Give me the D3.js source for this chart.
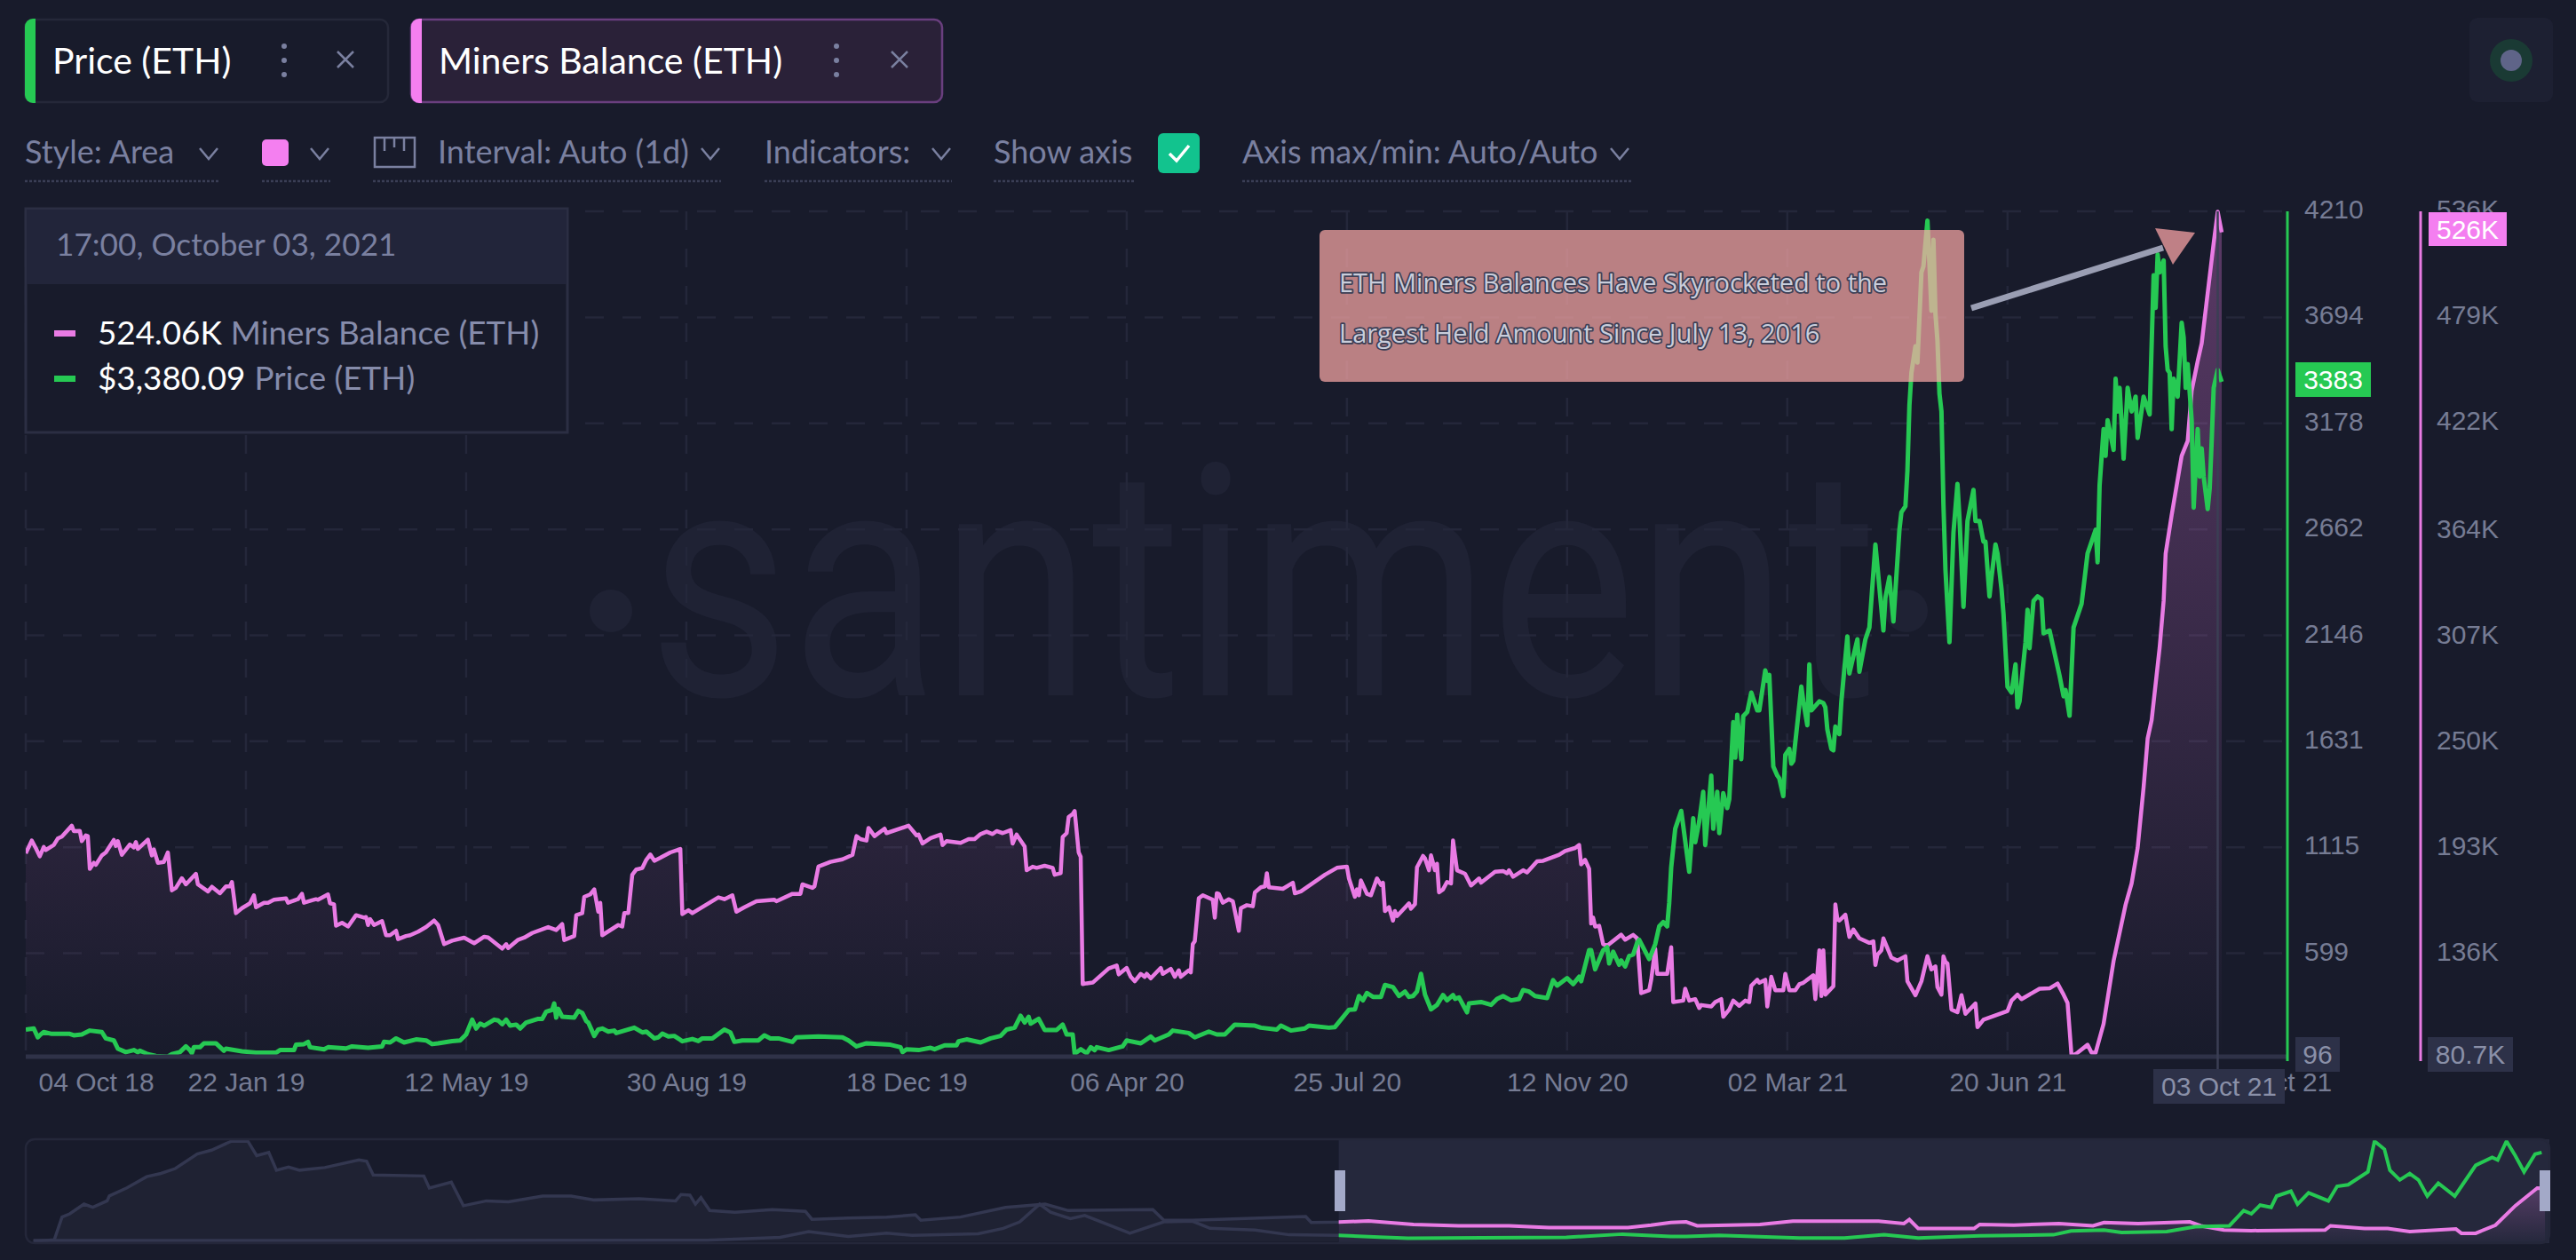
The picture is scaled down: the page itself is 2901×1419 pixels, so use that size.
<!DOCTYPE html>
<html>
<head>
<meta charset="utf-8">
<title>ETH Miners Balance</title>
<script src="https://cdn.jsdelivr.net/npm/d3@7"></script>
<style>
  html, body { margin: 0; background: #181b2b; }
  svg { display: block; }
  .axis text { font-family: "Liberation Sans", Arial, sans-serif; font-size: 30px; fill: #767c94; }
  .axis path, .axis line { display: none; }
</style>
</head>
<body>
<div id="chart"></div>
<script>
// [day since 04 Oct 18, thousand ETH]
const balancePoints = [
  [0,190.2],[3,197.1],[5,193.1],[7,188.6],[9,193.6],[10,192.0],[14,194.7],[16,198.2],[18,199.2],[23,205.1],[24,202.2],[27,202.3],[28,196.8],[30,199.9],[31,199.5],[32,181.8],[34,185.1],[35,184.0],[38,189.1],[40,190.7],[44,197.4],[45,194.2],[46,196.8],[48,189.4],[52,195.0],[54,193.4],[55,196.3],[56,192.6],[61,197.6],[63,189.1],[64,192.3],[66,185.1],[69,185.6],[71,190.7],[73,170.3],[75,171.6],[78,176.8],[80,173.5],[85,179.2],[86,173.5],[91,169.7],[93,172.2],[97,168.7],[100,172.4],[102,172.4],[103,174.8],[105,158.0],[108,160.7],[112,163.3],[114,167.6],[115,161.2],[119,163.6],[121,163.6],[124,165.2],[130,166.0],[131,163.6],[135,165.2],[136,165.5],[138,168.4],[139,163.6],[143,164.9],[145,165.5],[146,165.2],[151,168.1],[152,163.3],[154,162.8],[155,151.2],[158,152.8],[161,150.8],[165,156.9],[169,155.6],[170,155.9],[171,151.6],[172,154.8],[174,151.6],[178,153.7],[180,146.1],[182,146.1],[185,148.5],[186,144.0],[190,145.7],[192,146.1],[196,148.0],[200,150.5],[204,154.0],[206,151.6],[209,141.3],[213,143.2],[219,144.8],[224,141.8],[229,145.3],[231,144.9],[238,138.9],[240,141.3],[241,139.2],[246,143.7],[249,144.8],[253,147.3],[261,150.5],[265,148.9],[268,152.1],[269,143.5],
  [274,145.7],[275,156.9],[278,158.0],[279,166.8],[282,168.1],[284,170.8],[286,158.8],[287,163.6],[288,146.1],[296,151.6],[298,150.8],[299,158.0],[301,158.0],[303,178.7],[305,181.5],[308,182.3],[310,186.7],[312,189.6],[314,186.2],[317,187.8],[322,190.7],[327,192.6],[328,157.5],[331,159.6],[333,158.0],[346,166.5],[349,165.5],[353,167.6],[355,158.8],[359,161.2],[365,164.4],[374,165.2],[375,164.4],[383,168.4],[387,168.4],[388,173.5],[393,171.6],[394,172.4],[396,183.1],[402,185.6],[408,187.0],[413,189.4],[415,199.5],[417,197.9],[420,197.1],[421,203.9],[424,199.5],[429,203.5],[430,201.1],[441,205.1],[445,199.9],[446,200.3],[448,195.5],[452,198.4],[457,200.3],[458,194.7],[460,196.8],[467,195.8],[471,197.9],[474,197.9],[477,200.6],[480,201.9],[483,200.6],[485,202.2],[488,201.1],[492,202.7],[493,195.5],[495,200.3],[499,193.9],[500,181.1],[503,183.0],[505,182.4],[509,183.5],[513,182.4],[514,178.7],[517,179.5],[518,199.0],[520,201.1],[521,209.8],[523,211.4],[524,213.0],[526,190.7],[527,188.3],[528,119.8],[530,120.2],
  [533,120.6],[541,128.2],[545,129.8],[546,125.0],[550,128.5],[552,123.7],[554,121.3],[557,125.3],[559,123.7],[560,125.3],[562,122.9],[567,128.5],[568,125.3],[572,128.0],[574,123.7],[576,127.2],[577,123.7],[581,127.2],[582,126.1],[583,141.3],[584,142.9],[586,166.0],[588,167.6],[593,165.2],[594,155.6],[595,168.7],[596,168.4],[598,163.6],[601,165.5],[603,164.4],[605,154.0],[606,148.5],[607,160.7],[610,162.3],[613,161.7],[614,169.2],[617,171.9],[619,172.4],[620,179.5],[621,171.9],[628,171.1],[633,174.4],[634,168.7],[637,169.7],[649,178.7],[655,182.4],[660,183.0],[661,176.7],[664,166.8],[665,170.8],[666,167.6],[667,175.6],[670,168.4],[672,167.6],[675,176.7],[677,173.2],[678,174.4],[679,159.1],[681,161.2],[683,154.0],[684,159.1],[685,156.4],[691,163.3],[692,160.4],[694,162.8],[695,182.7],[698,188.8],[699,187.5],[701,181.1],[702,189.1],[704,181.1],[705,184.6],[706,169.2],[708,170.8],[710,174.8],[712,174.0],[713,197.1],[715,181.1],[719,179.2],[722,172.9],[726,176.7],[727,174.4],[734,180.3],[738,180.7],[740,179.5],[741,181.1],[743,177.6],[748,181.1],[750,179.9],[755,185.9],[758,186.2],[766,189.4],[769,191.5],[774,193.1],[776,194.7],[777,184.3],[779,186.7],[781,181.9],[782,152.4],[783,155.6],[784,150.8],[786,151.2],[788,141.3],[790,140.5],[797,146.4],[799,143.7],
  [803,146.3],[805,144.4],[807,114.9],[811,116.5],[812,122.1],[814,138.8],[815,125.3],[820,125.3],[822,139.6],[823,110.1],[828,110.9],[829,117.3],[831,110.9],[834,111.7],[836,106.9],[837,108.5],[842,107.7],[844,110.1],[847,111.7],[848,102.2],[851,106.1],[853,110.9],[856,108.1],[859,110.9],[861,110.1],[862,118.9],[865,122.1],[866,120.5],[869,122.1],[870,107.7],[872,123.7],[874,116.5],[878,116.5],[879,125.3],[881,116.5],[884,116.5],[886,119.7],[888,120.5],[893,124.5],[894,111.7],[896,138.0],[897,113.3],[898,138.0],[899,114.1],[903,118.6],[904,162.7],[905,154.8],[906,154.0],[909,157.2],[911,145.2],[913,149.2],[916,144.4],[921,142.0],[923,142.8],[924,130.1],[925,135.6],[927,138.0],[928,144.4],[932,134.0],[935,132.5],[939,134.8],[940,121.3],[944,113.8],[947,121.3],[950,134.8],[952,127.7],[954,129.3],[955,118.1],[957,114.1],[958,134.8],[959,131.7],[960,130.9],[962,106.1],[965,104.6],[967,113.8],[969,103.8],[974,109.3],[975,96.6],[978,100.6],[990,105.3],[992,110.9],[995,114.1],[997,111.7],[1006,117.3],[1011,117.5],[1015,120.1],[1018,114.1],[1020,109.6],[1022,81.0],
  [1025,82.8],[1030,87.1],[1032,82.8],[1034,82.8],[1038,98.4],[1043,132.3],[1049,162.6],[1052,174.0],[1055,193.0],[1058,226.0],[1060,252.0],[1062,262.0],[1066,301.0],[1068,326.2],[1069,351.7],[1072,372.4],[1075,391.5],[1077,404.3],[1080,412.3],[1082,439.4],[1085,455.3],[1087,464.9],[1090,492.0],[1093,519.0],[1095,535.8],[1097,524.7]
];
// [day since 04 Oct 18, USD]
const pricePoints = [
  [0,228],[4,233],[6,190],[7,200],[9,216],[13,207],[22,207],[24,200],[28,204],[32,223],[38,216],[40,185],[44,175],[46,135],[50,118],[54,128],[56,118],[57,125],[61,108],[65,99],[71,96],[73,108],[77,118],[80,146],[82,128],[83,113],[84,142],[87,142],[89,161],[95,161],[99,125],[100,135],[108,122],[115,115],[125,115],[127,128],[134,128],[135,154],[139,157],[141,168],[142,142],[149,132],[151,142],[160,136],[163,146],[171,139],[178,146],[179,168],[182,165],[185,185],[189,165],[195,180],[200,175],[203,157],[206,161],[213,172],[217,175],[220,204],[223,276],[225,233],[227,257],[229,247],[234,276],[236,272],[238,254],[240,276],[242,247],[245,252],[247,233],[250,262],[256,280],[258,280],[260,315],[263,324],[264,355],[265,286],[266,329],[268,290],
  [274,286],[276,319],[278,309],[280,269],[281,262],[284,197],[286,228],[288,233],[291,218],[294,223],[295,211],[304,237],[308,214],[310,218],[314,185],[316,190],[318,208],[321,194],[324,197],[328,171],[333,182],[336,172],[338,185],[343,185],[349,228],[352,214],[354,168],[358,175],[366,175],[369,200],[372,185],[376,185],[383,168],[385,190],[396,194],[408,190],[411,175],[415,146],[420,161],[432,154],[437,142],[438,118],[440,132],[446,128],[452,139],[454,132],[459,151],[465,151],[466,171],[470,180],[477,165],[482,185],[487,197],[490,228],[494,237],[497,295],[499,262],[501,290],[502,257],[506,280],[509,226],[515,226],[518,252],[520,204],[523,204],[524,110],[527,132],[530,113],[532,142],[534,128],
  [535,142],[541,128],[548,146],[550,175],[557,161],[562,194],[564,175],[571,204],[573,223],[581,211],[584,190],[591,218],[595,204],[599,204],[604,252],[614,247],[617,237],[625,228],[627,247],[632,223],[639,233],[641,247],[651,237],[654,240],[661,324],[664,326],[666,391],[668,370],[670,406],[673,387],[677,387],[679,445],[683,435],[686,391],[689,413],[691,387],[693,391],[695,413],[697,499],[699,398],[702,326],[705,348],[708,396],[710,370],[713,396],[714,377],[716,384],[720,312],[721,355],[727,362],[732,348],[735,377],[738,391],[742,370],[746,377],[748,420],[751,413],[754,391],[760,381],[763,468],[765,442],[770,478],[773,449],[776,485],[777,463],[781,615],[782,615],[784,521],
  [788,614],[790,629],[791,550],[793,607],[796,543],[797,564],[799,535],[801,586],[803,593],[805,651],[806,665],[811,571],[814,643],[816,730],[818,751],[820,730],[821,845],[822,1018],[824,1205],[827,1292],[828,1220],[831,996],[833,1256],[834,1140],[836,1241],[838,1385],[839,1126],[842,1464],[843,1205],[845,1385],[846,1184],[848,1378],[850,1306],[851,1349],[853,1724],[854,1551],[855,1760],[857,1544],[858,1753],[860,1774],[862,1868],[865,1781],[866,1781],[869,1976],[870,1925],[871,1954],[873,1508],[875,1464],[876,1450],[878,1364],[879,1565],[881,1594],[882,1522],[883,1536],[887,1897],[888,1825],[890,1709],[891,2005],[892,1781],[896,1825],[898,1817],[899,1796],[900,1688],[902,1594],[903,1587],[904,1702],[906,1666],[907,1825],[910,2141],[911,1961],[915,2127],[916,1969],[919,2127],[921,2185],
  [924,2588],[928,2170],[929,2329],[931,2430],[933,2214],[936,2660],[937,2746],[939,2775],[940,2948],[941,3265],[942,3424],[944,3553],[945,3474],[947,3913],[948,3942],[950,4165],[951,3956],[952,3726],[953,4072],[954,3712],[955,3582],[956,3323],[957,3236],[958,2782],[959,2466],[961,2113],[963,2646],[965,2883],[966,2718],[968,2285],[970,2703],[973,2854],[974,2703],[976,2703],[978,2602],[979,2602],[981,2336],[982,2430],[984,2588],[985,2545],[987,2372],[988,2250],[990,1897],[992,1868],[994,2005],[995,1796],[996,1825],[999,2113],[1000,2271],[1001,2084],[1003,2314],[1005,2336],[1007,2322],[1008,2156],[1011,2170],[1016,1950],[1018,1850],[1019,1880],[1021,1755],[1023,2185],[1027,2300],[1030,2545],[1034,2660],[1035,2502],[1036,2876],[1038,3150],[1039,3020],[1040,3193],[1043,3049],[1044,3395],[1045,3236],[1046,3351],[1048,3006],[1050,3351],[1052,3236],[1054,3308],[1055,3107],[1058,3308],[1061,3222],[1063,3899],[1064,3740],[1065,4000],[1066,3913],[1068,3971],[1069,3553],[1070,3438],[1071,3424],[1072,3150],[1073,3395],[1075,3308],[1077,3668],[1078,3596],[1079,3351],[1080,3467],[1082,3193],[1083,2768],[1085,3150],[1086,2919],[1087,3056],[1088,2919],[1090,2761],[1091,2862],[1092,3092],[1093,3351],[1095,3438],[1097,3380]
];
const navBalancePoints = [
  [-1187,0],[-1168,16],[-1161,240],[-1154,272],[-1141,368],[-1133,336],[-1120,400],[-1118,448],[-1102,528],[-1084,639],[-1071,671],[-1058,719],[-1038,863],[-1025,901],[-1007,990],[-992,990],[-984,847],[-973,879],[-966,703],[-955,735],[-945,703],[-922,729],[-891,805],[-884,792],[-878,655],[-832,646],[-827,527],[-807,585],[-796,352],[-775,400],[-755,390],[-724,448],[-698,448],[-677,409],[-636,422],[-603,400],[-598,463],[-590,457],[-585,368],[-580,432],[-572,304],[-549,288],[-515,313],[-485,297],[-479,218],[-446,230],[-411,240],[-385,262],[-380,208],[-344,240],[-303,336],[-267,368],[-246,304],[-169,314],[-159,208],[-133,208],[-30,246],[-25,186],[0,190],
  [27,202],[68,167],[109,154],[155,154],[191,135],[263,135],[284,160],[302,186],[316,192],[326,154],[383,167],[413,199],[491,199],[514,176],[519,215],[527,128],[578,128],[583,167],[614,160],[655,176],[686,154],[696,186],[727,176],[774,192],[784,154],[805,112],[830,106],[897,112],[902,154],[933,128],[954,128],[974,96],[1016,122],[1021,80],[1034,80],[1052,160],[1070,352],[1090,527],[1097,524]
];
const navPricePoints = [
  [-1187,1],[-600,5],[-575,8],[-508,128],[-482,370],[-446,168],[-411,303],[-388,209],[-328,276],[-305,504],[-290,773],[-272,1511],[-262,1175],[-244,907],[-231,1041],[-190,303],[-159,773],[-133,800],[-117,504],[-76,437],[-45,236],[0,209],
  [37,142],[63,96],[130,110],[207,129],[258,263],[302,169],[316,169],[346,209],[419,102],[460,102],[496,236],[527,100],[583,196],[650,236],[666,397],[696,437],[712,330],[753,370],[779,572],[810,612],[823,1242],[830,1108],[838,1470],[848,1377],[853,1847],[866,2048],[872,1511],[882,1981],[900,1645],[908,2250],[918,2317],[936,2853],[942,4129],[951,3793],[956,2920],[965,2518],[974,2786],[982,2518],[990,1847],[1000,2384],[1015,1847],[1034,3123],[1049,3458],[1054,3351],[1062,4129],[1070,3525],[1078,2853],[1088,3592],[1094,3659]
];
const xTickLabels = ["04 Oct 18", "22 Jan 19", "12 May 19", "30 Aug 19", "18 Dec 19", "06 Apr 20", "25 Jul 20", "12 Nov 20", "02 Mar 21", "20 Jun 21", "04 Oct 21"];
const priceTicks = [4210, 3694, 3178, 2662, 2146, 1631, 1115, 599];
const balanceTicks = [536, 479, 422, 364, 307, 250, 193, 136];
const priceMin = 96, balanceMin = 80.7;
const hoverLabel = "03 Oct 21", priceTag = "3383", balanceTag = "526K";
const toolbarItems = ["Style: Area", "Interval: Auto (1d)", "Indicators:", "Show axis", "Axis max/min: Auto/Auto"];

const GREEN = "#26c953", PINK = "#e97be4", BG = "#181b2b", MUTED = "#7a80a0", CHIP = "#2d3148";
const UI_FONT = "Lato, 'Liberation Sans', sans-serif";

const parseTick = d3.timeParse("%d %b %y");
const start = parseTick(xTickLabels[0]);
const dayToDate = (d) => d3.timeDay.offset(start, d);

const plot = { left: 29, right: 2502, top: 238, bottom: 1190, axisRight: 2576, balanceAxis: 2726 };
const nav = { left: 29, right: 2871, top: 1283, bottom: 1400 };

const x = d3.scaleTime().domain([start, dayToDate(1097)]).range([plot.left, plot.right]);
const yPrice = d3.scaleLinear().domain([priceMin, priceTicks[0]]).range([plot.bottom, plot.top]);
const yBalance = d3.scaleLinear().domain([balanceMin, balanceTicks[0]]).range([plot.bottom, plot.top]);
const xNav = d3.scaleLinear().domain([-1194, 1101]).range([nav.left, nav.right]);
const yNavBalance = d3.scaleLinear().domain([0, 1000]).range([1398, 1284]);
const yNavPrice = d3.scaleLinear().domain([0, 4210]).range([1397, 1283]);

const svg = d3.select("#chart").append("svg").attr("width", 2901).attr("height", 1419).attr("viewBox", "0 0 2901 1419");
svg.append("rect").attr("width", 2901).attr("height", 1419).attr("fill", BG);

const defs = svg.append("defs");
const grad = defs.append("linearGradient").attr("id", "balanceFill").attr("gradientUnits", "userSpaceOnUse")
  .attr("x1", 0).attr("x2", 0).attr("y1", plot.top).attr("y2", plot.bottom);
grad.append("stop").attr("offset", 0).attr("stop-color", PINK).attr("stop-opacity", 0.32);
grad.append("stop").attr("offset", 1).attr("stop-color", PINK).attr("stop-opacity", 0);
const navGrad = defs.append("linearGradient").attr("id", "navFill").attr("gradientUnits", "userSpaceOnUse")
  .attr("x1", 0).attr("x2", 0).attr("y1", nav.top + 40).attr("y2", nav.bottom);
navGrad.append("stop").attr("offset", 0).attr("stop-color", PINK).attr("stop-opacity", 0.3);
navGrad.append("stop").attr("offset", 1).attr("stop-color", PINK).attr("stop-opacity", 0);
defs.append("clipPath").attr("id", "navSelected").append("rect")
  .attr("x", xNav(0)).attr("y", nav.top).attr("width", nav.right - xNav(0)).attr("height", nav.bottom - nav.top);
defs.append("clipPath").attr("id", "navLeft").append("rect")
  .attr("x", nav.left).attr("y", nav.top).attr("width", xNav(0) - nav.left).attr("height", nav.bottom - nav.top);
defs.append("clipPath").attr("id", "plotClip").append("rect")
  .attr("x", plot.left).attr("y", plot.top - 8).attr("width", plot.axisRight - plot.left).attr("height", plot.bottom - plot.top + 8);

function label(g, px, py, str, size, fill, family, anchor) {
  return g.append("text").attr("x", px).attr("y", py).attr("font-size", size).attr("fill", fill)
    .attr("font-family", family || UI_FONT).attr("text-anchor", anchor || "start").text(str);
}
function chevron(g, cx, cy) {
  g.append("path").attr("d", `M${cx - 10},${cy - 6}L${cx},${cy + 6}L${cx + 10},${cy - 6}`)
    .attr("fill", "none").attr("stroke", MUTED).attr("stroke-width", 2.5);
}
function underline(g, x1, x2) {
  g.append("line").attr("x1", x1).attr("x2", x2).attr("y1", 204).attr("y2", 204)
    .attr("stroke", "#3a3e55").attr("stroke-width", 2.5).attr("stroke-dasharray", "3 2");
}

// watermark
const mark = svg.append("g").attr("fill", "#1f2234");
mark.append("text").attr("x", 730).attr("y", 783).attr("font-family", "Roboto, Lato, sans-serif")
  .attr("font-size", 365).attr("textLength", 1385).attr("lengthAdjust", "spacingAndGlyphs").text("santiment");
mark.append("circle").attr("cx", 688).attr("cy", 688).attr("r", 24);
mark.append("circle").attr("cx", 2147).attr("cy", 688).attr("r", 24);

// grid
const grid = svg.append("g").attr("stroke", "#24273a").attr("stroke-width", 2.5).attr("stroke-dasharray", "21 21");
grid.selectAll(".h").data(priceTicks).join("line").attr("class", "h")
  .attr("x1", plot.left).attr("x2", plot.axisRight).attr("y1", yPrice).attr("y2", yPrice);
grid.selectAll(".v").data(xTickLabels.slice(0, -1)).join("line").attr("class", "v")
  .attr("x1", (d) => x(parseTick(d))).attr("x2", (d) => x(parseTick(d))).attr("y1", plot.top).attr("y2", plot.bottom);

// series
const chart = svg.append("g").attr("clip-path", "url(#plotClip)");
const area = d3.area().x((d) => x(dayToDate(d[0]))).y0(plot.bottom).y1((d) => yBalance(d[1]));
const balanceLine = d3.line().x((d) => x(dayToDate(d[0]))).y((d) => yBalance(d[1]));
const priceLine = d3.line().x((d) => x(dayToDate(d[0]))).y((d) => yPrice(d[1]));
chart.append("path").datum(balancePoints).attr("d", area).attr("fill", "url(#balanceFill)");
chart.append("path").datum(balancePoints).attr("d", balanceLine).attr("fill", "none").attr("stroke", PINK).attr("stroke-width", 4.5).attr("stroke-linejoin", "round");
chart.append("path").datum(pricePoints).attr("d", priceLine).attr("fill", "none").attr("stroke", GREEN).attr("stroke-width", 5).attr("stroke-linejoin", "round");

// x axis
svg.append("line").attr("x1", plot.left).attr("x2", plot.axisRight).attr("y1", plot.bottom).attr("y2", plot.bottom)
  .attr("stroke", "#2f3248").attr("stroke-width", 5);
const hoverDate = parseTick(hoverLabel);
svg.append("line").attr("x1", x(hoverDate)).attr("x2", x(hoverDate)).attr("y1", plot.top).attr("y2", 1204)
  .attr("stroke", "#3b3e54").attr("stroke-width", 2.5);
const xAxis = svg.append("g").attr("class", "axis").attr("transform", `translate(0,${plot.bottom})`)
  .call(d3.axisBottom(x).tickValues(xTickLabels.map(parseTick)).tickSize(0).tickPadding(18).tickFormat(d3.timeFormat("%d %b %y")));
xAxis.selectAll(".tick text").filter((d, i) => i === 0).attr("text-anchor", "start").attr("x", 14);
xAxis.selectAll(".tick text").filter((d, i) => i === xTickLabels.length - 1).attr("text-anchor", "end").attr("x", 126);

// y axes
const yAxisPrice = svg.append("g").attr("class", "axis").attr("transform", `translate(${plot.axisRight},0)`)
  .call(d3.axisRight(yPrice).tickValues(priceTicks).tickSize(0).tickPadding(19).tickFormat(d3.format("d")));
const yAxisBalance = svg.append("g").attr("class", "axis").attr("transform", `translate(${plot.balanceAxis},0)`)
  .call(d3.axisRight(yBalance).tickValues(balanceTicks).tickSize(0).tickPadding(18).tickFormat((d) => d + "K"));
[yAxisPrice, yAxisBalance].forEach((a) => a.selectAll(".tick text").attr("dy", "0.25em"));
svg.append("line").attr("x1", plot.axisRight).attr("x2", plot.axisRight).attr("y1", plot.top).attr("y2", 1195).attr("stroke", GREEN).attr("stroke-width", 3);
svg.append("line").attr("x1", plot.balanceAxis).attr("x2", plot.balanceAxis).attr("y1", plot.top).attr("y2", 1195).attr("stroke", PINK).attr("stroke-width", 3);

const AXIS_FONT = "'Liberation Sans', Arial, sans-serif";
function chip(px, py, w, h, fill, str, color) {
  svg.append("rect").attr("x", px).attr("y", py).attr("width", w).attr("height", h).attr("fill", fill);
  label(svg, px + w / 2, py + h / 2 + 10.5, str, 30, color, AXIS_FONT, "middle");
}
chip(2585, 1168, 50, 39, CHIP, String(priceMin), "#8a90a8");
chip(2734, 1168, 96, 39, CHIP, balanceMin + "K", "#8a90a8");
chip(2425, 1204, 148, 39, CHIP, hoverLabel, "#8a90a8");
chip(2585, 408, 85, 39, GREEN, priceTag, "#fff");
chip(2735, 239, 88, 38, "#f47ff0", balanceTag, "#fff");

// annotation
const note = svg.append("g");
note.append("rect").attr("x", 1486).attr("y", 259).attr("width", 726).attr("height", 171).attr("rx", 6).attr("fill", "#ffabaa").attr("fill-opacity", 0.7);
["ETH Miners Balances Have Skyrocketed to the", "Largest Held Amount Since July 13, 2016"].forEach((t, i) => {
  label(note, 1508, 329 + i * 57, t, 29, "#c9cddb", "'Open Sans', sans-serif")
    .attr("stroke", "#3d3f55").attr("stroke-width", 3.5).attr("paint-order", "stroke").attr("stroke-linejoin", "round");
});
note.append("line").attr("x1", 2220).attr("y1", 347).attr("x2", 2436).attr("y2", 279).attr("stroke", "#9a9eb3").attr("stroke-width", 7);
note.append("path").attr("d", "M2427,257L2472,262L2447,298Z").attr("fill", "#bf8086");

// legend box
const box = svg.append("g");
box.append("rect").attr("x", 29).attr("y", 235).attr("width", 610).attr("height", 252).attr("fill", BG).attr("stroke", "#2b2e43").attr("stroke-width", 3);
box.append("rect").attr("x", 30).attr("y", 236).attr("width", 608).attr("height", 84).attr("fill", "#22253a");
label(box, 63, 288, "17:00, October 03, 2021", 35.2, MUTED);
box.append("rect").attr("x", 61).attr("y", 372).attr("width", 24).attr("height", 7).attr("fill", PINK);
box.append("rect").attr("x", 61).attr("y", 423).attr("width", 24).attr("height", 7).attr("fill", GREEN);
const row1 = label(box, 110, 388, "524.06K", 36.8, "#fff");
row1.append("tspan").attr("dx", 10).attr("fill", "#868cab").text("Miners Balance (ETH)");
const row2 = label(box, 110, 439, "$3,380.09", 36.8, "#fff");
row2.append("tspan").attr("dx", 10).attr("fill", "#868cab").text("Price (ETH)");

// tabs
const tabs = svg.append("g");
function tab(px, w, fill, border, bar, name, dotsX, crossX) {
  tabs.append("rect").attr("x", px).attr("y", 22).attr("width", w).attr("height", 93).attr("rx", 9).attr("fill", fill).attr("stroke", border).attr("stroke-width", 2.5);
  tabs.append("path").attr("d", `M${px + 12},21V116H${px + 9}a9,9 0 0 1 -9,-9V30a9,9 0 0 1 9,-9Z`).attr("fill", bar);
  label(tabs, px + 31, 83, name, 41, "#fff");
  [52, 68, 84].forEach((cy) => tabs.append("circle").attr("cx", dotsX).attr("cy", cy).attr("r", 3).attr("fill", MUTED));
  tabs.append("path").attr("d", `M${crossX - 9},58L${crossX + 9},76M${crossX + 9},58L${crossX - 9},76`).attr("stroke", MUTED).attr("stroke-width", 2.5);
}
tab(28, 409, BG, "#252839", GREEN, "Price (ETH)", 320, 389);
tab(463, 598, "#2a2138", "#6a3f7f", "#f47ff0", "Miners Balance (ETH)", 942, 1013);

// toolbar
const bar = svg.append("g");
label(bar, 28, 184, toolbarItems[0], 36, MUTED); chevron(bar, 235, 173); underline(bar, 28, 247);
bar.append("rect").attr("x", 295).attr("y", 157).attr("width", 30).attr("height", 30).attr("rx", 5).attr("fill", "#f47ff0");
chevron(bar, 360, 173); underline(bar, 295, 372);
bar.append("rect").attr("x", 422).attr("y", 155).attr("width", 45).attr("height", 33).attr("fill", "none").attr("stroke", MUTED).attr("stroke-width", 2.5);
bar.append("path").attr("d", "M433,155V170M444,155V166M455,155V170").attr("stroke", MUTED).attr("stroke-width", 2.5);
label(bar, 493, 184, toolbarItems[1], 36, MUTED); chevron(bar, 800, 173); underline(bar, 420, 812);
label(bar, 861, 184, toolbarItems[2], 36, MUTED); chevron(bar, 1060, 173); underline(bar, 861, 1072);
label(bar, 1119, 184, toolbarItems[3], 36, MUTED); underline(bar, 1119, 1278);
bar.append("rect").attr("x", 1304).attr("y", 150).attr("width", 47).attr("height", 45).attr("rx", 6).attr("fill", "#12c38e");
bar.append("path").attr("d", "M1317,173L1325,181L1339,164").attr("fill", "none").attr("stroke", "#fff").attr("stroke-width", 3.5);
label(bar, 1399, 184, toolbarItems[4], 36, MUTED); chevron(bar, 1824, 173); underline(bar, 1399, 1838);

// top right icon
svg.append("rect").attr("x", 2781).attr("y", 20).attr("width", 94).attr("height", 95).attr("rx", 9).attr("fill", "#1d2032");
svg.append("circle").attr("cx", 2828).attr("cy", 68).attr("r", 24).attr("fill", "#1a3a34");
svg.append("circle").attr("cx", 2828).attr("cy", 68).attr("r", 12).attr("fill", "#5f6488");

// navigator
const navG = svg.append("g");
const navArea = d3.area().x((d) => xNav(d[0])).y0(nav.bottom - 2).y1((d) => yNavBalance(d[1]));
const navBalanceLine = d3.line().x((d) => xNav(d[0])).y((d) => yNavBalance(d[1]));
const navPriceLine = d3.line().x((d) => xNav(d[0])).y((d) => yNavPrice(d[1]));
navG.append("rect").attr("x", xNav(0)).attr("y", nav.top).attr("width", nav.right - xNav(0)).attr("height", nav.bottom - nav.top).attr("fill", "#25283c");
const left = navG.append("g").attr("clip-path", "url(#navLeft)");
left.append("path").datum(navBalancePoints).attr("d", navArea).attr("fill", "#1f2233");
left.append("path").datum(navBalancePoints).attr("d", navBalanceLine).attr("fill", "none").attr("stroke", "#333750").attr("stroke-width", 3.5);
left.append("path").datum(navPricePoints).attr("d", navPriceLine).attr("fill", "none").attr("stroke", "#333750").attr("stroke-width", 3.5);
const sel = navG.append("g").attr("clip-path", "url(#navSelected)");
sel.append("path").datum(navBalancePoints).attr("d", navArea).attr("fill", "url(#navFill)");
sel.append("path").datum(navBalancePoints).attr("d", navBalanceLine).attr("fill", "none").attr("stroke", PINK).attr("stroke-width", 4);
sel.append("path").datum(navPricePoints).attr("d", navPriceLine).attr("fill", "none").attr("stroke", GREEN).attr("stroke-width", 4);
navG.append("rect").attr("x", nav.left).attr("y", nav.top).attr("width", nav.right - nav.left).attr("height", nav.bottom - nav.top).attr("rx", 10).attr("fill", "none").attr("stroke", "#24273a").attr("stroke-width", 2.5);
navG.append("rect").attr("x", 1503).attr("y", 1318).attr("width", 12).attr("height", 46).attr("fill", "#a3a9c8");
navG.append("rect").attr("x", 2860).attr("y", 1318).attr("width", 12).attr("height", 46).attr("fill", "#a3a9c8");
</script>
</body>
</html>
